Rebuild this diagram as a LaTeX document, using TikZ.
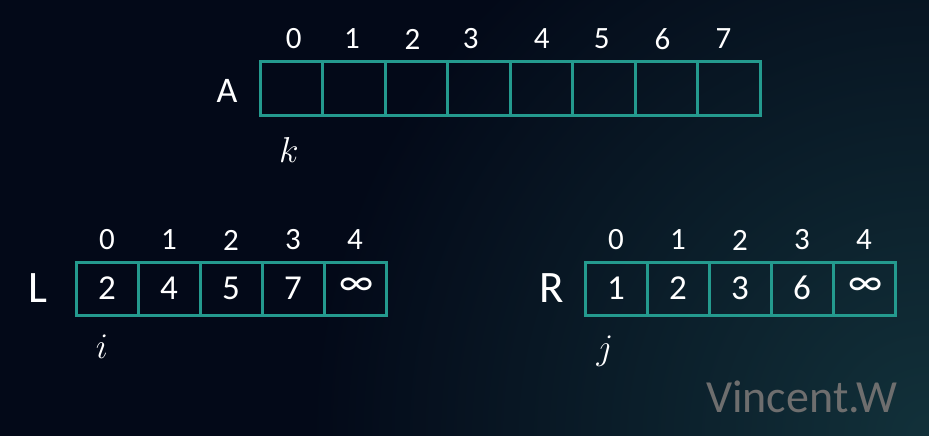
\RequirePackage{fix-cm}
\documentclass[tikz,border=0pt]{standalone}
\usepackage{fontspec}
\setmainfont{Carlito}
\definecolor{bgbase}{HTML}{030918}
\definecolor{bgglow}{HTML}{12313A}
\definecolor{cellline}{HTML}{249A8E}
\definecolor{wmark}{HTML}{6E6E6E}
\begin{document}
\begin{tikzpicture}[x=1pt,y=-1pt,
  cellbox/.style={draw=cellline,line width=3pt,minimum width=62.5pt,minimum height=53pt,inner sep=0pt,anchor=center},
  idx/.style={text=white,font=\fontsize{31}{36}\selectfont,inner sep=0pt,anchor=center},
  val/.style={text=white,font=\fontsize{35}{40}\selectfont,inner sep=0pt,anchor=center},
  arrname/.style={text=white,font=\fontsize{45}{50}\selectfont,inner sep=0pt,anchor=center},
  ptr/.style={text=white,font=\fontsize{36}{40}\selectfont,inner sep=0pt,anchor=center}]
\useasboundingbox (0,0) rectangle (929,436);
\fill[bgbase] (0,0) rectangle (929,436);
\begin{scope}
\clip (0,0) rectangle (929,436);
\shade[inner color=bgglow,outer color=bgbase] (929,436) circle (620);
\end{scope}
% Array A
\node[arrname,font=\fontsize{36}{40}\selectfont] (Aname) at (227,91) {A};
\foreach \i/\ix in {0/293.8,1/352,2/412.6,3/470.8,4/541.7,5/601.7,6/662.4,7/723.4}{
  \node[cellbox] (A\i) at ({260+62.5*\i+31.25},88.5) {};
  \node[idx] (Ai\i) at (\ix,39) {\i};
}
\node[ptr] (k) at (289,150) {$k$};
% Array L
\node[arrname] (Lname) at (38,288) {L};
\foreach \i/\v in {0/2,1/4,2/5,3/7}{
  \node[cellbox,minimum width=62pt] (L\i) at ({76+62*\i+31},289) {};
  \node[val] at ({76+62*\i+31},288) {\v};
  \node[idx] (Li\i) at ({76+62*\i+31},240) {\i};
}
\node[cellbox,minimum width=62pt] (L4) at ({76+62*4+31},289) {};
\node[val,font=\fontsize{40}{44}\selectfont] (Linf) at (357,287) {∞};
\node[idx] (Li4) at ({76+62*4+31},240) {4};
\node[ptr] (i) at (102,347) {$i$};
% Array R
\node[arrname] (Rname) at (552,288) {R};
\foreach \i/\v in {0/1,1/2,2/3,3/6}{
  \node[cellbox,minimum width=62pt] (R\i) at ({585+62*\i+31},289) {};
  \node[val] at ({585+62*\i+31},288) {\v};
  \node[idx] (Ri\i) at ({585+62*\i+31},240) {\i};
}
\node[cellbox,minimum width=62pt] (R4) at ({585+62*4+31},289) {};
\node[val,font=\fontsize{40}{44}\selectfont] (Rinf) at (866,287) {∞};
\node[idx] (Ri4) at ({585+62*4+31},240) {4};
\node[ptr] (j) at (605,351) {$j$};
% watermark
\node[text=wmark,font=\fontsize{46}{50}\selectfont,inner sep=0pt,anchor=center] (wm) at (802,397) {Vincent.W};
\end{tikzpicture}
\end{document}
